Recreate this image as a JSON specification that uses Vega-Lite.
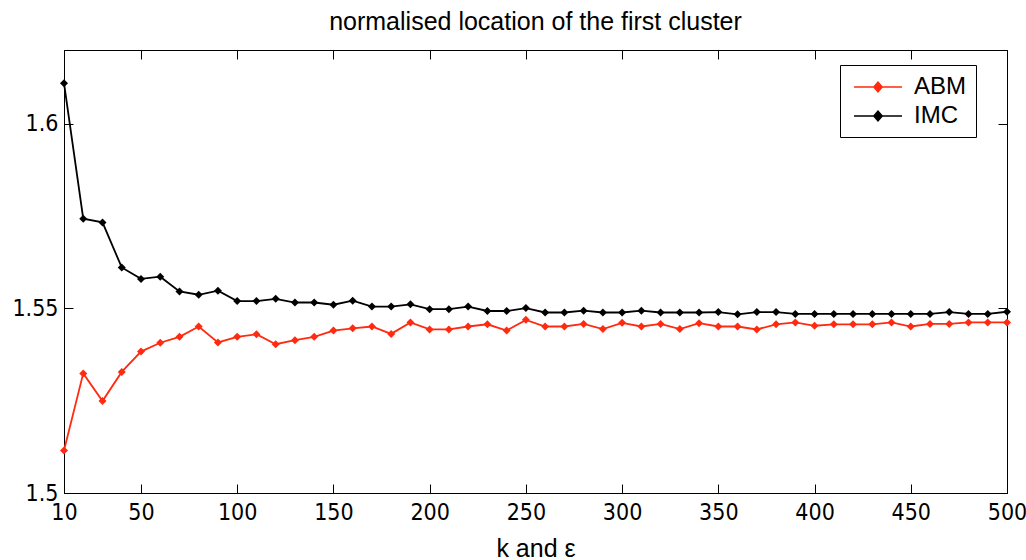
{
  "$schema": "https://vega.github.io/schema/vega-lite/v6.json",
  "autosize": "none",
  "width": 943,
  "height": 443,
  "padding": {"left": 64, "top": 50, "right": 19, "bottom": 67},
  "background": "white",
  "title": {
    "text": "normalised location of the first cluster",
    "font": "Liberation Sans",
    "fontSize": 25,
    "fontWeight": "normal",
    "color": "black",
    "anchor": "middle",
    "baseline": "alphabetic",
    "offset": 18,
    "dy": 23
  },
  "data": {
    "values": [
      {"k": 10, "method": "ABM", "value": 1.5115}, {"k": 20, "method": "ABM", "value": 1.5324},
      {"k": 30, "method": "ABM", "value": 1.5249}, {"k": 40, "method": "ABM", "value": 1.5328},
      {"k": 50, "method": "ABM", "value": 1.5383}, {"k": 60, "method": "ABM", "value": 1.5407},
      {"k": 70, "method": "ABM", "value": 1.5423}, {"k": 80, "method": "ABM", "value": 1.5451},
      {"k": 90, "method": "ABM", "value": 1.5408}, {"k": 100, "method": "ABM", "value": 1.5423},
      {"k": 110, "method": "ABM", "value": 1.543}, {"k": 120, "method": "ABM", "value": 1.5403},
      {"k": 130, "method": "ABM", "value": 1.5414}, {"k": 140, "method": "ABM", "value": 1.5423},
      {"k": 150, "method": "ABM", "value": 1.544}, {"k": 160, "method": "ABM", "value": 1.5446},
      {"k": 170, "method": "ABM", "value": 1.5451}, {"k": 180, "method": "ABM", "value": 1.5431},
      {"k": 190, "method": "ABM", "value": 1.5462}, {"k": 200, "method": "ABM", "value": 1.5443},
      {"k": 210, "method": "ABM", "value": 1.5443}, {"k": 220, "method": "ABM", "value": 1.5451},
      {"k": 230, "method": "ABM", "value": 1.5457}, {"k": 240, "method": "ABM", "value": 1.544},
      {"k": 250, "method": "ABM", "value": 1.5469}, {"k": 260, "method": "ABM", "value": 1.5451},
      {"k": 270, "method": "ABM", "value": 1.5451}, {"k": 280, "method": "ABM", "value": 1.5458},
      {"k": 290, "method": "ABM", "value": 1.5444}, {"k": 300, "method": "ABM", "value": 1.5461},
      {"k": 310, "method": "ABM", "value": 1.5451}, {"k": 320, "method": "ABM", "value": 1.5458},
      {"k": 330, "method": "ABM", "value": 1.5444}, {"k": 340, "method": "ABM", "value": 1.546},
      {"k": 350, "method": "ABM", "value": 1.5451}, {"k": 360, "method": "ABM", "value": 1.5451},
      {"k": 370, "method": "ABM", "value": 1.5443}, {"k": 380, "method": "ABM", "value": 1.5457},
      {"k": 390, "method": "ABM", "value": 1.5462}, {"k": 400, "method": "ABM", "value": 1.5453},
      {"k": 410, "method": "ABM", "value": 1.5457}, {"k": 420, "method": "ABM", "value": 1.5457},
      {"k": 430, "method": "ABM", "value": 1.5457}, {"k": 440, "method": "ABM", "value": 1.5462},
      {"k": 450, "method": "ABM", "value": 1.5451}, {"k": 460, "method": "ABM", "value": 1.5458},
      {"k": 470, "method": "ABM", "value": 1.5458}, {"k": 480, "method": "ABM", "value": 1.5462},
      {"k": 490, "method": "ABM", "value": 1.5462}, {"k": 500, "method": "ABM", "value": 1.5462},
      {"k": 10, "method": "IMC", "value": 1.611}, {"k": 20, "method": "IMC", "value": 1.5743},
      {"k": 30, "method": "IMC", "value": 1.5733}, {"k": 40, "method": "IMC", "value": 1.5611},
      {"k": 50, "method": "IMC", "value": 1.558}, {"k": 60, "method": "IMC", "value": 1.5586},
      {"k": 70, "method": "IMC", "value": 1.5546}, {"k": 80, "method": "IMC", "value": 1.5537},
      {"k": 90, "method": "IMC", "value": 1.5548}, {"k": 100, "method": "IMC", "value": 1.552},
      {"k": 110, "method": "IMC", "value": 1.552}, {"k": 120, "method": "IMC", "value": 1.5526},
      {"k": 130, "method": "IMC", "value": 1.5516}, {"k": 140, "method": "IMC", "value": 1.5516},
      {"k": 150, "method": "IMC", "value": 1.551}, {"k": 160, "method": "IMC", "value": 1.5521},
      {"k": 170, "method": "IMC", "value": 1.5505}, {"k": 180, "method": "IMC", "value": 1.5505},
      {"k": 190, "method": "IMC", "value": 1.5511}, {"k": 200, "method": "IMC", "value": 1.5498},
      {"k": 210, "method": "IMC", "value": 1.5498}, {"k": 220, "method": "IMC", "value": 1.5505},
      {"k": 230, "method": "IMC", "value": 1.5493}, {"k": 240, "method": "IMC", "value": 1.5493},
      {"k": 250, "method": "IMC", "value": 1.5501}, {"k": 260, "method": "IMC", "value": 1.5489},
      {"k": 270, "method": "IMC", "value": 1.5489}, {"k": 280, "method": "IMC", "value": 1.5494},
      {"k": 290, "method": "IMC", "value": 1.5489}, {"k": 300, "method": "IMC", "value": 1.5489},
      {"k": 310, "method": "IMC", "value": 1.5494}, {"k": 320, "method": "IMC", "value": 1.5489},
      {"k": 330, "method": "IMC", "value": 1.5489}, {"k": 340, "method": "IMC", "value": 1.5489},
      {"k": 350, "method": "IMC", "value": 1.549}, {"k": 360, "method": "IMC", "value": 1.5484},
      {"k": 370, "method": "IMC", "value": 1.549}, {"k": 380, "method": "IMC", "value": 1.549},
      {"k": 390, "method": "IMC", "value": 1.5485}, {"k": 400, "method": "IMC", "value": 1.5485},
      {"k": 410, "method": "IMC", "value": 1.5485}, {"k": 420, "method": "IMC", "value": 1.5485},
      {"k": 430, "method": "IMC", "value": 1.5485}, {"k": 440, "method": "IMC", "value": 1.5485},
      {"k": 450, "method": "IMC", "value": 1.5485}, {"k": 460, "method": "IMC", "value": 1.5485},
      {"k": 470, "method": "IMC", "value": 1.549}, {"k": 480, "method": "IMC", "value": 1.5485},
      {"k": 490, "method": "IMC", "value": 1.5485}, {"k": 500, "method": "IMC", "value": 1.5491}
    ]
  },
  "encoding": {
    "color": {
      "field": "method",
      "type": "nominal",
      "scale": {"domain": ["ABM", "IMC"], "range": ["#ff2a10", "#000000"]},
      "legend": {
        "title": null,
        "orient": "none",
        "legendX": 776,
        "legendY": 15,
        "direction": "vertical",
        "padding": 9,
        "strokeColor": "black",
        "fillColor": "white",
        "symbolType": "M-2,0L2,0M-0.35,0L0,-0.4L0.35,0L0,0.4Z",
        "symbolSize": 576,
        "symbolOffset": 16,
        "symbolStrokeWidth": 1.5,
        "labelFont": "Liberation Sans",
        "labelFontSize": 24,
        "labelColor": "black",
        "labelOffset": 23,
        "rowPadding": 4,
        "encode": {
          "symbols": {
            "update": {
              "fill": {"scale": "color", "field": "value"},
              "stroke": {"scale": "color", "field": "value"},
              "strokeWidth": {"value": 1.5}
            }
          }
        }
      }
    }
  },
  "layer": [
    {
      "mark": {"type": "line", "strokeWidth": 1.8},
      "encoding": {
        "x": {
          "field": "k",
          "type": "quantitative",
          "scale": {"domain": [10, 500], "nice": false, "zero": false},
          "axis": {
            "values": [10, 50, 100, 150, 200, 250, 300, 350, 400, 450, 500],
            "title": "k and ε",
            "titleFont": "Liberation Sans",
            "titleFontSize": 25,
            "titleFontWeight": "normal",
            "titleColor": "black",
            "titleBaseline": "alphabetic",
            "titleY": 63,
            "labelFont": "DejaVu Sans Condensed, sans-serif",
            "labelFontSize": 23,
            "labelColor": "black",
            "labelBaseline": "alphabetic",
            "labelPadding": 35,
            "labelFlush": false,
            "labelOverlap": false,
            "tickSize": -9,
            "tickColor": "black",
            "domainColor": "black",
            "grid": false
          }
        },
        "y": {
          "field": "value",
          "type": "quantitative",
          "scale": {"domain": [1.5, 1.62], "nice": false, "zero": false},
          "axis": {
            "values": [1.5, 1.55, 1.6],
            "format": "~g",
            "title": null,
            "labelFont": "DejaVu Sans Condensed, sans-serif",
            "labelFontSize": 23,
            "labelColor": "black",
            "labelBaseline": "middle",
            "labelPadding": 15,
            "labelFlush": false,
            "labelOverlap": false,
            "tickSize": -9,
            "tickColor": "black",
            "domainColor": "black",
            "grid": false
          }
        }
      }
    },
    {
      "mark": {"type": "point", "shape": "diamond", "filled": true, "size": 64, "opacity": 1},
      "encoding": {
        "x": {
          "field": "k",
          "type": "quantitative",
          "axis": {
            "orient": "top",
            "values": [10, 50, 100, 150, 200, 250, 300, 350, 400, 450, 500],
            "labels": false,
            "title": null,
            "tickSize": -9,
            "tickColor": "black",
            "domainColor": "black",
            "grid": false
          }
        },
        "y": {
          "field": "value",
          "type": "quantitative",
          "axis": {
            "orient": "right",
            "values": [1.5, 1.55, 1.6],
            "labels": false,
            "title": null,
            "tickSize": -9,
            "tickColor": "black",
            "domainColor": "black",
            "grid": false
          }
        }
      }
    }
  ],
  "resolve": {"axis": {"x": "independent", "y": "independent"}},
  "config": {
    "view": {"stroke": "black", "strokeWidth": 1}
  }
}
